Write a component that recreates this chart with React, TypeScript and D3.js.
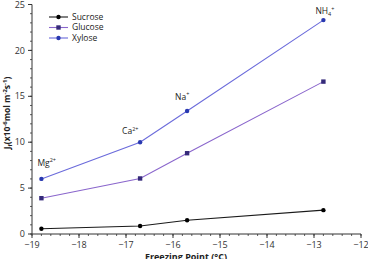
import React from "react";
import * as d3 from "d3";

const freezingPoints = [-18.8, -16.7, -15.7, -12.8];
const ions = ["Mg", "Ca", "Na", "NH"];
const ionSub = ["", "", "", "4"];
const ionSup = ["2+", "2+", "+", "+"];
const sucrose = [0.58, 0.87, 1.49, 2.6];
const glucose = [3.9, 6.05, 8.8, 16.6];
const xylose = [6.0, 10.0, 13.4, 23.3];
const seriesNames = ["Sucrose", "Glucose", "Xylose"];
const xTicks = [-19, -18, -17, -16, -15, -14, -13, -12];
const yTicks = [0, 5, 10, 15, 20, 25];

const W = 368;
const H = 259;
const FONT = "'Open Sans', 'Noto Sans', sans-serif";

export default function App() {
  const x = d3.scaleLinear().domain([-19, -12]).range([32, 361]);
  const y = d3.scaleLinear().domain([0, 25]).range([234, 4.5]);
  const series = [
    { name: seriesNames[0], data: sucrose, line: "#1a1a1a", mark: "#000000", shape: "circle" },
    { name: seriesNames[1], data: glucose, line: "#8a66cc", mark: "#352a7a", shape: "square" },
    { name: seriesNames[2], data: xylose, line: "#6b6bdb", mark: "#2838b0", shape: "circle" },
  ];
  const line = d3
    .line<number>()
    .x((_, i) => x(freezingPoints[i]))
    .y((d) => y(d));
  const xMinor = d3.range(-19, -12 + 0.001, 0.2);
  const yMinor = d3.range(0, 25.001, 1);
  const marker = (shape: string, cx: number, cy: number, color: string, key: string) =>
    shape === "square" ? (
      <rect key={key} x={cx - 2.2} y={cy - 2.2} width={4.4} height={4.4} fill={color} />
    ) : (
      <circle key={key} cx={cx} cy={cy} r={2.2} fill={color} />
    );
  const labelDx = [-4, -18, -12, -8];
  const labelDy = [-13, -8, -11, -6];

  return (
    <svg
      width={W}
      height={H}
      style={{ position: "absolute", left: 0, top: 0, background: "#fff" }}
      fontFamily={FONT}
    >
      <line x1={32} x2={32} y1={y(25)} y2={y(0)} stroke="#333" strokeWidth={1} />
      <line x1={32} x2={361} y1={y(0)} y2={y(0)} stroke="#333" strokeWidth={1} />
      {yMinor.map((v) => (
        <line key={"ym" + v} x1={30} x2={32} y1={y(v)} y2={y(v)} stroke="#333" strokeWidth={0.8} />
      ))}
      {yTicks.map((v) => (
        <g key={"y" + v}>
          <line x1={28} x2={32} y1={y(v)} y2={y(v)} stroke="#333" strokeWidth={1} />
          <text x={25} y={y(v)} dy="0.35em" textAnchor="end" fontSize={9} fill="#333">
            {v}
          </text>
        </g>
      ))}
      {xMinor.map((v, i) => (
        <line key={"xm" + i} x1={x(v)} x2={x(v)} y1={y(0)} y2={y(0) + 2} stroke="#333" strokeWidth={0.8} />
      ))}
      {xTicks.map((v) => (
        <g key={"x" + v}>
          <line x1={x(v)} x2={x(v)} y1={y(0)} y2={y(0) + 4} stroke="#333" strokeWidth={1} />
          <text x={x(v)} y={y(0) + 14} textAnchor="middle" fontSize={9} fill="#333">
            {"\u2212" + Math.abs(v)}
          </text>
        </g>
      ))}
      <text x={186} y={260} textAnchor="middle" fontSize={9} fontWeight="bold" fill="#222">
        Freezing Point (°C)
      </text>
      <text
        transform={`translate(10,${113}) rotate(-90)`}
        textAnchor="middle"
        fontSize={8.5}
        fontWeight="bold"
        fill="#222"
      >
        J<tspan fontSize={6} dy={2}>f</tspan>
        <tspan dy={-2}>(x10</tspan>
        <tspan fontSize={6} dy={-3}>-6</tspan>
        <tspan dy={3}>mol m</tspan>
        <tspan fontSize={6} dy={-3}>-2</tspan>
        <tspan dy={3}>s</tspan>
        <tspan fontSize={6} dy={-3}>-1</tspan>
        <tspan dy={3}>)</tspan>
      </text>

      {series.map((s) => (
        <g key={s.name}>
          <path d={line(s.data) || ""} fill="none" stroke={s.line} strokeWidth={1.1} />
          {s.data.map((v, i) => marker(s.shape, x(freezingPoints[i]), y(v), s.mark, s.name + i))}
        </g>
      ))}

      {ions.map((ion, i) => (
        <text
          key={ion}
          x={x(freezingPoints[i]) + labelDx[i]}
          y={y(xylose[i]) + labelDy[i]}
          fontSize={8.5}
          fill="#222"
        >
          {ion}
          {ionSub[i] && (
            <tspan fontSize={5.5} dy={2}>
              {ionSub[i]}
            </tspan>
          )}
          <tspan fontSize={5.5} dy={ionSub[i] ? -5.5 : -3.5}>
            {ionSup[i]}
          </tspan>
        </text>
      ))}

      {series.map((s, i) => (
        <g key={"lg" + s.name} transform={`translate(0,${17 + i * 10.5})`}>
          <line x1={49} x2={68} y1={0} y2={0} stroke={s.line} strokeWidth={1.1} />
          {marker(s.shape, 58.5, 0, s.mark, "lm" + i)}
          <text x={72} y={0} dy="0.35em" fontSize={8.5} fill="#222">
            {s.name}
          </text>
        </g>
      ))}
    </svg>
  );
}
